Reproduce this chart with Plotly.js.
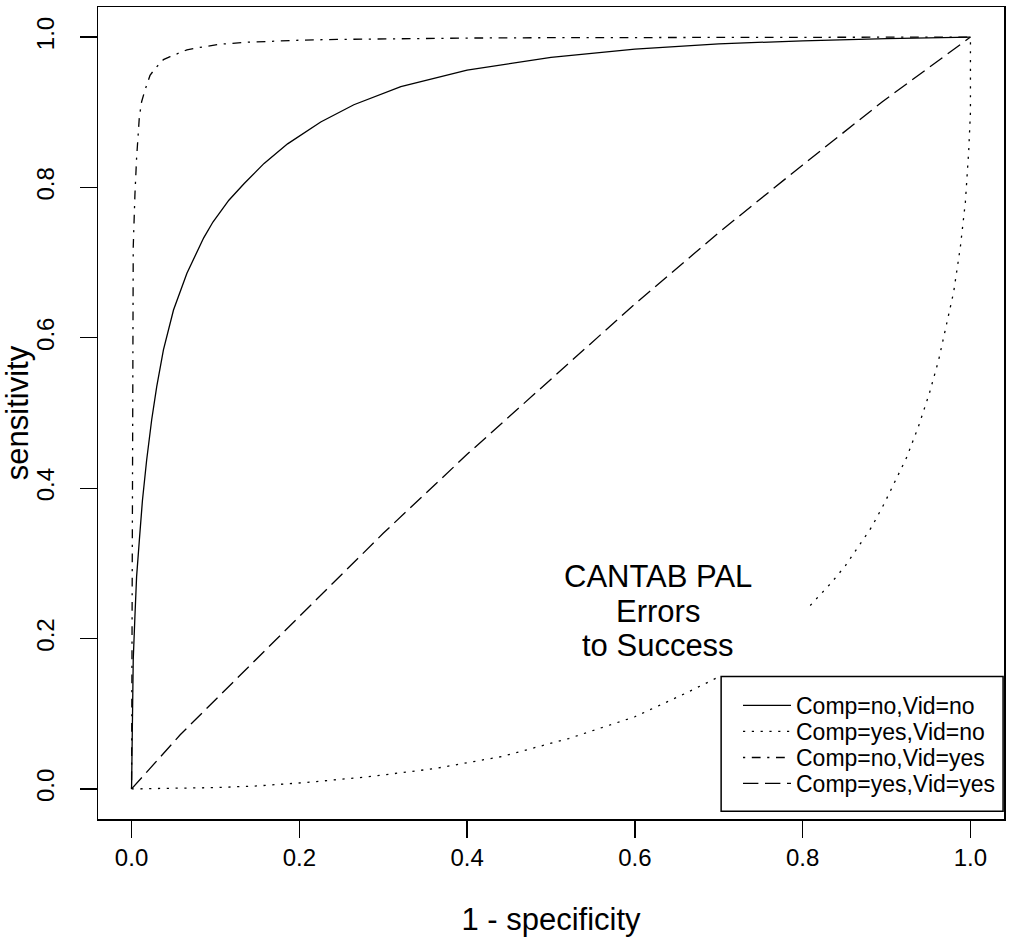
<!DOCTYPE html>
<html>
<head>
<meta charset="utf-8">
<script src="https://cdn.plot.ly/plotly-3.0.1.min.js"></script>
<style>html,body{margin:0;padding:0;background:#fff;}#chart{width:1019px;height:947px;}</style>
</head>
<body>
<div id="chart"></div>
<script>
// Series names
const seriesNames = ["Comp=no,Vid=no", "Comp=yes,Vid=no", "Comp=no,Vid=yes", "Comp=yes,Vid=yes"];

// Comp=no,Vid=no (solid)
const solidX = [0, 0.0005, 0.0014, 0.002, 0.004, 0.006, 0.0093, 0.013, 0.018, 0.024, 0.030, 0.038, 0.050, 0.066, 0.086, 0.097, 0.116, 0.134, 0.158, 0.186, 0.2255, 0.265, 0.321, 0.4, 0.5, 0.6, 0.7, 0.8, 0.9, 1.0];
const solidY = [0, 0.05, 0.105, 0.1715, 0.229, 0.282, 0.331, 0.384, 0.4375, 0.491, 0.535, 0.584, 0.637, 0.686, 0.733, 0.754, 0.783, 0.805, 0.832, 0.858, 0.887, 0.910, 0.934, 0.956, 0.973, 0.984, 0.991, 0.995, 0.998, 1.0];

// Comp=yes,Vid=no (dotted)
const dottedX = [0, 0.05, 0.1, 0.15, 0.206, 0.281, 0.361, 0.441, 0.521, 0.600, 0.660, 0.700, null, 0.809, 0.834, 0.851, 0.866, 0.882, 0.897, 0.911, 0.924, 0.938, 0.951, 0.962, 0.971, 0.980, 0.988, 0.994, 0.998, 1.0, 1.0];
const dottedY = [0, 0.0005, 0.0018, 0.004, 0.0084, 0.016, 0.027, 0.043, 0.067, 0.096, 0.127, 0.149, null, 0.244, 0.274, 0.297, 0.321, 0.348, 0.379, 0.410, 0.441, 0.482, 0.526, 0.570, 0.615, 0.661, 0.721, 0.781, 0.85, 0.9, 1.0];

// Comp=no,Vid=yes (dot-dash)
const dotdashX = [0, 0.001, 0.002, 0.004, 0.006, 0.0093, 0.012, 0.016, 0.022, 0.028, 0.038, 0.046, 0.066, 0.085, 0.106, 0.135, 0.166, 0.2, 0.245, 0.321, 0.4, 0.5, 0.6, 0.8, 1.0];
const dotdashY = [0, 0.45, 0.72, 0.79, 0.839, 0.894, 0.914, 0.9295, 0.949, 0.958, 0.970, 0.974, 0.983, 0.987, 0.9905, 0.993, 0.9947, 0.9958, 0.9969, 0.998, 0.9987, 0.9992, 0.9995, 0.9998, 1.0];

// Comp=yes,Vid=yes (long dash)
const longdashX = [0, 0.02, 0.058, 0.0967, 0.2, 0.3, 0.4, 0.5, 0.6, 0.7, 0.8, 0.895, 1.0];
const longdashY = [0, 0.025, 0.072, 0.115, 0.23, 0.34, 0.445, 0.545, 0.645, 0.74, 0.83, 0.914, 1.0];

// Axis ticks
const tickVals = [0, 0.2, 0.4, 0.6, 0.8, 1.0];
const tickText = ["0.0", "0.2", "0.4", "0.6", "0.8", "1.0"];

// Annotation text lines
const noteLines = ["CANTAB PAL", "Errors", "to Success"];

const FONT = "Liberation Sans, Arial, Helvetica, sans-serif";
const LW = 1.3;
const legendIds = ["legend", "legend2", "legend3", "legend4"];
const legendRowY = [0.1398, 0.1078, 0.0757, 0.0437];
const noteY = [0.2825, 0.2359, 0.1907];

const traces = [
  {x: solidX, y: solidY, name: seriesNames[0], line: {color: "black", width: LW, dash: "solid"}},
  {x: dottedX, y: dottedY, name: seriesNames[1], line: {color: "black", width: LW, dash: "2.2px,6.6px"}, connectgaps: false},
  {x: dotdashX, y: dotdashY, name: seriesNames[2], line: {color: "black", width: LW, dash: "2.2px,6.6px,8.8px,6.6px"}},
  {x: longdashX, y: longdashY, name: seriesNames[3], line: {color: "black", width: LW, dash: "15.4px,6.6px"}}
].map((t, i) => Object.assign({type: "scatter", mode: "lines", hoverinfo: "skip", legend: legendIds[i], showlegend: true}, t));

function legendAt(yp) {
  return {
    x: 0.7064, y: yp, xanchor: "left", yanchor: "middle",
    bgcolor: "rgba(0,0,0,0)", borderwidth: 0,
    font: {family: FONT, size: 23, color: "black"},
    itemwidth: 48, tracegroupgap: 0
  };
}

const layout = {
  width: 1019, height: 947,
  margin: {l: 98, r: 15, t: 7, b: 128, pad: 0},
  paper_bgcolor: "white", plot_bgcolor: "white",
  font: {family: FONT, color: "black", size: 24},
  showlegend: true,
  xaxis: {
    range: [-0.04, 1.04], tickvals: tickVals, ticktext: tickText,
    ticks: "outside", ticklen: 17, tickwidth: 1.3, tickcolor: "black",
    showline: true, mirror: true, linecolor: "black", linewidth: 1.5,
    showgrid: false, zeroline: false, fixedrange: true,
    tickfont: {family: FONT, size: 24, color: "black"},
    ticklabelstandoff: 0,
    title: {text: "1 - specificity", font: {family: FONT, size: 31, color: "black"}, standoff: 38}
  },
  yaxis: {
    range: [-0.04, 1.04], tickvals: tickVals, ticktext: tickText,
    ticks: "outside", ticklen: 17, tickwidth: 1.3, tickcolor: "black",
    showline: true, mirror: true, linecolor: "black", linewidth: 1.5,
    showgrid: false, zeroline: false, fixedrange: true, tickangle: -90,
    tickfont: {family: FONT, size: 24, color: "black"},
    ticklabelstandoff: 16,
    title: {text: "sensitivity", font: {family: FONT, size: 31, color: "black"}, standoff: 12}
  },
  shapes: [{
    type: "rect", xref: "x", yref: "y",
    x0: 0.7028, x1: 1.0389, y0: -0.0298, y1: 0.1494,
    fillcolor: "white", line: {color: "black", width: 1.5}, layer: "above"
  }],
  annotations: noteLines.map((t, i) => ({
    xref: "x", yref: "y", x: 0.627, y: noteY[i], text: t,
    showarrow: false, xanchor: "center", yanchor: "middle",
    font: {family: FONT, size: 31, color: "black"}
  }))
};
legendIds.forEach((id, i) => { layout[id] = legendAt(legendRowY[i]); });

Plotly.newPlot("chart", traces, layout, {displayModeBar: false, staticPlot: true});
</script>
</body>
</html>
